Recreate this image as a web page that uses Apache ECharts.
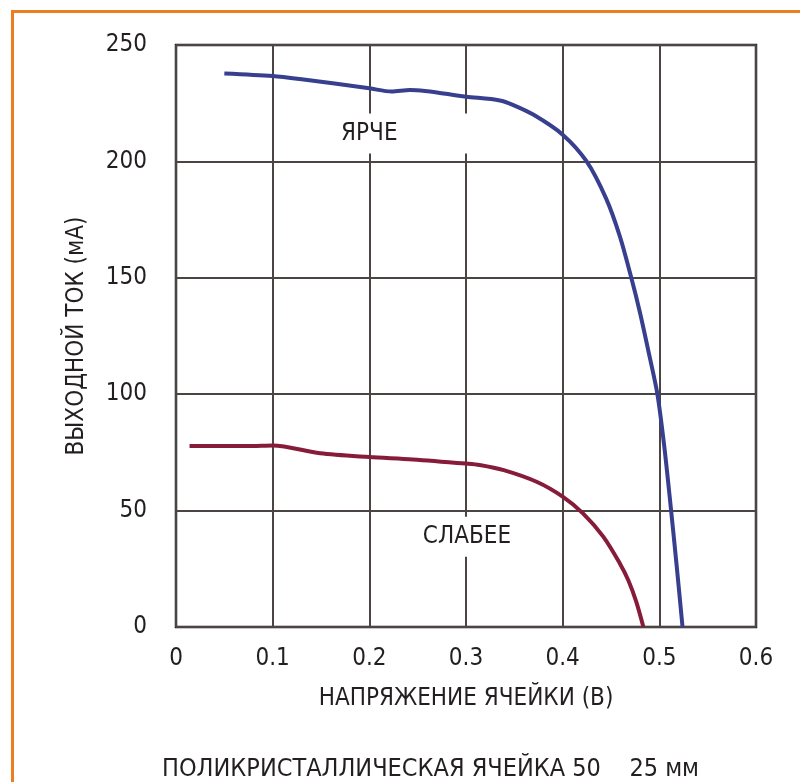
<!DOCTYPE html>
<html>
<head>
<meta charset="utf-8">
<script src="https://cdn.jsdelivr.net/npm/echarts@6/dist/echarts.min.js"></script>
<style>
  html, body { margin: 0; padding: 0; background: #ffffff; }
  #chart { width: 800px; height: 782px; }
</style>
</head>
<body>
<div id="chart"></div>
<script>
// data: voltage (V) / current (mA)
var brightV = [0.05, 0.1, 0.128, 0.2, 0.223, 0.242, 0.3, 0.335, 0.349, 0.37, 0.4, 0.4248, 0.445, 0.459, 0.471, 0.48, 0.49, 0.498, 0.505, 0.5117, 0.518, 0.524];
var brightI = [237.8, 236.7, 235.4, 231.4, 230.0, 230.7, 227.8, 226.2, 224.2, 220.0, 211.5, 200.0, 184.0, 168.0, 150.0, 135.0, 116.0, 100.0, 78.0, 52.0, 26.0, 0];
var dimV = [0.014, 0.05, 0.08, 0.1, 0.149, 0.2, 0.245, 0.3, 0.314, 0.339, 0.373, 0.4, 0.421, 0.442, 0.459, 0.468, 0.476, 0.4835];
var dimI = [77.7, 77.7, 77.8, 78.0, 74.6, 73.0, 72.0, 70.2, 69.6, 67.4, 62.4, 56.0, 48.8, 38.8, 27.4, 20.0, 11.0, 0];
var curveLabels = [
  { name: "ЯРЧЕ", v: 0.2, i: 212 },
  { name: "СЛАБЕЕ", v: 0.301, i: 38.8 }
];
var xTitle = "НАПРЯЖЕНИЕ ЯЧЕЙКИ (В)";
var yTitle = "ВЫХОДНОЙ ТОК (мА)";
var footTitle = "ПОЛИКРИСТАЛЛИЧЕСКАЯ ЯЧЕЙКА 50    25 мм";

var font = "'Liberation Sans Narrow', 'DejaVu Sans Condensed', sans-serif";
var ink = "#231f20";

function pairs(xs, ys) {
  return xs.map(function (x, k) { return [x, ys[k]]; });
}

var chart = echarts.init(document.getElementById("chart"));
var option = {
  backgroundColor: "#ffffff",
  animation: false,
  textStyle: { fontFamily: font, color: ink },
  title: {
    text: footTitle,
    left: 157,
    top: 752,
    textStyle: { fontFamily: font, fontSize: 25, fontWeight: "normal", color: ink }
  },
  graphic: [
    {
      type: "rect",
      silent: true,
      shape: { x: 12.5, y: 11.5, width: 820, height: 820 },
      style: { fill: null, stroke: "#ed7d22", lineWidth: 3 }
    }
  ],
  grid: {
    left: 176,
    right: 44,
    top: 45,
    bottom: 155,
    show: true,
    borderColor: ink,
    borderWidth: 2.5,
    backgroundColor: "transparent"
  },
  xAxis: {
    type: "value",
    min: 0,
    max: 0.6,
    interval: 0.1,
    name: xTitle,
    nameLocation: "middle",
    nameGap: 60,
    nameTextStyle: { fontFamily: font, fontSize: 24, color: ink },
    axisLine: { show: false },
    axisTick: { show: false },
    axisLabel: { margin: 20, fontFamily: font, fontSize: 24, color: ink },
    splitLine: { show: true, lineStyle: { color: "#4a4542", width: 2 } }
  },
  yAxis: {
    type: "value",
    min: 0,
    max: 250,
    interval: 50,
    name: yTitle,
    nameLocation: "middle",
    nameGap: 87,
    nameTextStyle: { fontFamily: font, fontSize: 24, color: ink },
    axisLine: { show: false },
    axisTick: { show: false },
    axisLabel: { margin: 29, fontFamily: font, fontSize: 24, color: ink },
    splitLine: { show: true, lineStyle: { color: "#4a4542", width: 2 } }
  },
  series: [
    {
      name: "ЯРЧЕ",
      type: "line",
      data: pairs(brightV, brightI),
      smooth: 0.3,
      showSymbol: false,
      lineStyle: { color: "#373f8e", width: 4 },
      z: 3
    },
    {
      name: "СЛАБЕЕ",
      type: "line",
      data: pairs(dimV, dimI),
      smooth: 0.3,
      showSymbol: false,
      lineStyle: { color: "#861b3a", width: 4 },
      z: 3
    },
    {
      // curve captions, placed in data coordinates
      type: "scatter",
      symbolSize: 0,
      silent: true,
      z: 2,
      itemStyle: { opacity: 1 },
      data: curveLabels.map(function (d, k) {
        return {
          value: [d.v, d.i],
          label: k === 0
            ? { padding: [8, 72, 8, 8], offset: [32, 0] }
            : { padding: [8, 10, 8, 10], offset: [0, 0] }
        };
      }),
      label: {
        show: true,
        position: "inside",
        formatter: function (p) { return curveLabels[p.dataIndex].name; },
        fontFamily: font,
        fontSize: 24,
        color: ink,
        opacity: 1,
        backgroundColor: "#ffffff"
      }
    }
  ]
};
chart.setOption(option);
window.addEventListener("resize", function () {
  chart.resize();
});
</script>
</body>
</html>
